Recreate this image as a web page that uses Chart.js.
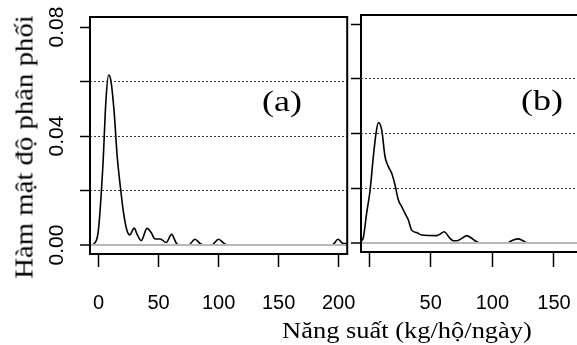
<!DOCTYPE html>
<html lang="vi">
<head>
  <meta charset="UTF-8">
  <title>Hàm mật độ phân phối</title>
  <style>
    html, body {
      margin: 0;
      padding: 0;
      background: #fff;
      overflow: hidden;
    }
    #wrap {
      position: relative;
      width: 577px;
      height: 345px;
      overflow: hidden;
    }
    canvas {
      position: absolute;
      top: 0;
    }
    #chart-a { left: 0; }
    #chart-b { left: 340px; }
    .txt {
      position: absolute;
      font-family: 'Liberation Serif', 'Times New Roman', serif;
      color: #000;
      white-space: nowrap;
    }
    #ytitle {
      left: 24px;
      top: 147px;
      font-size: 25px;
      line-height: 25px;
      transform: translate(-50%, -50%) rotate(-90deg) scaleX(1.15);
    }
    #xtitle {
      left: 407px;
      top: 319px;
      font-size: 23px;
      line-height: 23px;
      transform: translateX(-50%) scaleX(1.15);
    }
    .panel-label {
      font-size: 30px;
      line-height: 30px;
      transform: translateX(-50%) scaleX(1.2);
    }
  </style>
</head>
<body>
  <div id="wrap">
    <canvas id="chart-a" width="380" height="345"></canvas>
    <canvas id="chart-b" width="260" height="345"></canvas>
    <div class="txt" id="ytitle">Hàm mật độ phân phối</div>
    <div class="txt" id="xtitle">Năng suất (kg/hộ/ngày)</div>
    <div class="txt panel-label" style="left:282px; top:86px;">(a)</div>
    <div class="txt panel-label" style="left:542px; top:85px;">(b)</div>
  </div>

  <script src="https://cdn.jsdelivr.net/npm/chart.js"></script>
  <script>
    // panel (a) - density curve
    const xA = [-4.5, -0.5, 3.5, 6.1, 8.3, 10.1, 12.8, 15.5, 18.1, 20.8, 23.5, 26, 29.6, 32.3, 35.5,
                40.3, 44, 46.7, 51.5, 56.3, 60.8, 64.8, 67, 75, 80.3, 84.8, 88, 94, 100, 104.8, 108,
                193, 195.5, 199.5, 203.5, 207.2];
    const yA = [0, 0.0044, 0.0287, 0.0532, 0.0624, 0.0606, 0.0495, 0.0324, 0.0214, 0.0117, 0.0055, 0.0037, 0.0062, 0.0037, 0.0016,
                0.0061, 0.0044, 0.0023, 0.0022, 0.0009, 0.0039, 0.0006, 0, 0, 0.0021, 0.0005, 0, 0, 0.0021, 0.0005, 0,
                0, 0.0002, 0.0021, 0.0006, 0.0005];

    // panel (b) - density curve
    const xB = [-6.5, -4.6, -1.9, 0.8, 3.5, 5.7, 7.6, 10.3, 13, 15.7, 18.4, 21.1, 23.8, 26.5, 29.2, 31.9, 34.6,
                38.7, 42.7, 54.9, 57.5, 60.8, 65.7, 68.4, 71.1, 75, 79.2, 83, 86, 88.7, 90.5,
                112, 113.8, 117, 121.1, 124, 126.5, 128];
    const yB = [0.0005, 0.002, 0.011, 0.019, 0.0315, 0.0401, 0.044, 0.0413, 0.0315, 0.0279, 0.0255, 0.0212, 0.0157, 0.0133, 0.0108, 0.0084, 0.0047,
                0.0038, 0.0029, 0.0027, 0.0032, 0.0041, 0.0017, 0.0008, 0.0008, 0.0016, 0.0027, 0.0018, 0.0008, 0.0002, 0,
                0, 0.0004, 0.0011, 0.0015, 0.001, 0.0004, 0];

    const xTicksA = [0, 50, 100, 150, 200];
    const xTicksB = [0, 50, 100, 150];
    const yTicks = [0, 0.02, 0.04, 0.06, 0.08];
    const yTickLabels = ['0.00', '', '0.04', '', '0.08'];

    // R-style box around the plot region
    const boxPlugin = {
      id: 'box',
      afterDraw(chart) {
        const {ctx, chartArea: a} = chart;
        ctx.save();
        ctx.strokeStyle = '#000';
        ctx.lineWidth = 2;
        ctx.strokeRect(a.left, a.top, a.right - a.left, a.bottom - a.top);
        ctx.restore();
      }
    };

    // rotated y tick labels (left panel only)
    const yLabelPlugin = {
      id: 'yLabels',
      afterDraw(chart) {
        const {ctx} = chart;
        const y = chart.scales.y;
        ctx.save();
        ctx.fillStyle = '#000';
        ctx.font = '21px "Liberation Sans", Arial, sans-serif';
        ctx.textAlign = 'center';
        ctx.textBaseline = 'middle';
        yTicks.forEach((v, i) => {
          if (!yTickLabels[i]) return;
          ctx.save();
          ctx.translate(57, y.getPixelForValue(v));
          ctx.rotate(-Math.PI / 2);
          ctx.fillText(yTickLabels[i], 0, 0);
          ctx.restore();
        });
        ctx.restore();
      }
    };

    function makeChart(id, xs, ys, opts) {
      return new Chart(document.getElementById(id), {
        type: 'line',
        data: {
          datasets: [{
            data: xs.map((x, i) => ({x: x, y: ys[i]})),
            borderColor: '#000',
            borderWidth: 1.6,
            pointRadius: 0,
            cubicInterpolationMode: 'monotone',
            fill: false
          }]
        },
        options: {
          responsive: false,
          animation: false,
          layout: {padding: opts.padding},
          plugins: {legend: {display: false}, tooltip: {enabled: false}},
          scales: {
            x: {
              type: 'linear',
              min: opts.xMin,
              max: opts.xMax,
              afterBuildTicks: s => { s.ticks = opts.xTicks.map(v => ({value: v})); },
              afterFit: s => { s.height = opts.xHeight; },
              border: {display: false},
              grid: {
                drawOnChartArea: false,
                tickLength: opts.xTickLen,
                tickColor: '#000',
                tickWidth: 1.5
              },
              ticks: {
                color: '#000',
                padding: opts.xTickPad,
                maxRotation: 0,
                font: {family: '"Liberation Sans", Arial, sans-serif', size: 20},
                callback: v => opts.xLabel(v)
              }
            },
            y: {
              min: opts.yMin,
              max: opts.yMax,
              afterBuildTicks: s => { s.ticks = yTicks.map(v => ({value: v})); },
              afterFit: s => { s.width = opts.yWidth; },
              border: {
                display: false,
                dash: c => (c.tick && c.tick.value > 0) ? [2, 2] : []
              },
              grid: {
                z: 1,
                color: c => {
                  const v = c.tick ? c.tick.value : 0;
                  if (v === 0) return '#b8b8b8';
                  return v < 0.07 ? '#333' : 'rgba(0,0,0,0)';
                },
                lineWidth: c => (c.tick && c.tick.value === 0) ? 2 : 1,
                tickLength: 10,
                tickColor: '#000',
                tickWidth: 1.5
              },
              ticks: {display: false}
            }
          }
        },
        plugins: opts.plugins
      });
    }

    makeChart('chart-a', xA, yA, {
      padding: {left: 0, top: 17, right: 22, bottom: 0},
      xMin: -7.2, xMax: 207.2, xTicks: xTicksA, xHeight: 91, xTickLen: 13, xTickPad: 24,
      xLabel: v => String(v),
      yMin: -0.0033, yMax: 0.08367, yWidth: 90,
      plugins: [boxPlugin, yLabelPlugin]
    });

    makeChart('chart-b', xB, yB, {
      padding: {left: 0, top: 15, right: 21, bottom: 0},
      xMin: -6.5, xMax: 170.3, xTicks: xTicksB, xHeight: 93, xTickLen: 15, xTickPad: 24,
      xLabel: v => v === 0 ? '' : String(v),
      yMin: -0.0033, yMax: 0.0833, yWidth: 21,
      plugins: [boxPlugin]
    });
  </script>
</body>
</html>
